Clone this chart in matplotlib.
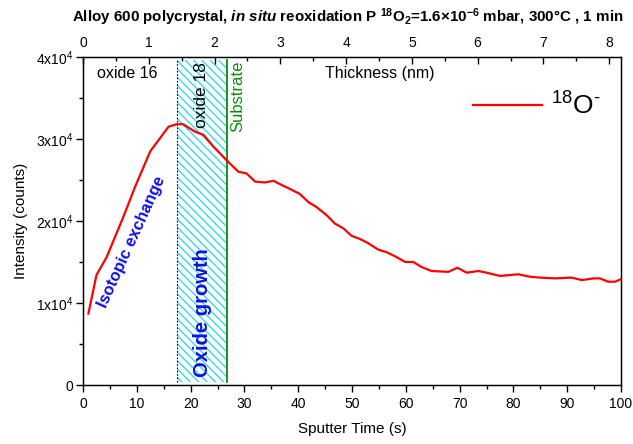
import matplotlib
matplotlib.use("Agg")
import matplotlib.pyplot as plt
from matplotlib.ticker import MultipleLocator, FuncFormatter

plt.rcParams['font.family'] = ['Liberation Sans', 'DejaVu Sans']
plt.rcParams['mathtext.fontset'] = 'custom'
plt.rcParams['mathtext.rm'] = 'Liberation Sans'
plt.rcParams['mathtext.bf'] = 'Liberation Sans:bold'
plt.rcParams['mathtext.it'] = 'Liberation Sans:italic:bold'
plt.rcParams['hatch.linewidth'] = 0.9

# data
time_s = [1.0, 2.5, 4.4, 7.5, 9.7, 12.5, 15.9, 17.4, 18.6, 20.8,
          22.4, 24.2, 26.7, 28.9, 30.4, 32.0, 33.8, 35.4, 36.9, 38.5,
          40.3, 41.9, 43.4, 45.3, 46.8, 48.4, 49.9, 51.5, 53.0, 54.9,
          56.4, 58.0, 59.9, 61.4, 62.9, 64.8, 67.9, 69.6, 71.3, 73.5,
          75.0, 77.5, 80.9, 83.1, 84.9, 87.7, 90.8, 92.7, 94.9, 96.1,
          97.6, 98.9, 100.0]
intensity_k = [8.7, 13.4, 15.6, 20.5, 24.2, 28.5, 31.5, 31.8, 31.8, 30.9,
               30.5, 29.1, 27.4, 26.0, 25.8, 24.8, 24.7, 24.9, 24.4, 23.9,
               23.3, 22.3, 21.7, 20.7, 19.7, 19.1, 18.2, 17.8, 17.3, 16.5,
               16.2, 15.7, 15.0, 15.0, 14.4, 13.9, 13.8, 14.3, 13.7, 13.9,
               13.7, 13.3, 13.5, 13.2, 13.1, 13.0, 13.1, 12.8, 13.0, 13.0,
               12.6, 12.6, 12.9]
intensity = [v * 1000 for v in intensity_k]
oxide16_end = 17.5
substrate_start = 26.7
thickness_max = 8.18

fig = plt.figure(figsize=(6.33, 4.44), dpi=100)
ax = fig.add_axes([83/633, 1-385/444, (621-83)/633, (385-57)/444])

ax.plot(time_s, intensity, color='#ff0000', lw=1.6, label=r'$^{18}$O$^{\text{-}}$', zorder=5)

ymin_f, ymax_f = 0.009, 0.99
ax.axvspan(oxide16_end, substrate_start, ymin=ymin_f, ymax=ymax_f, facecolor='none',
           edgecolor='#22d8ec', hatch='\\\\\\\\', linewidth=0, zorder=1)
ax.axvline(oxide16_end, ymin=ymin_f, ymax=ymax_f, color='black', ls=(0, (1.5, 1.5)), lw=0.8, zorder=2)
ax.axvline(substrate_start, ymin=ymin_f, ymax=ymax_f, color='#0a8a0a', lw=1.3, zorder=3)

ax.set_xlim(0, 100)
ax.set_ylim(0, 40000)
ax.xaxis.set_major_locator(MultipleLocator(10))
ax.xaxis.set_minor_locator(MultipleLocator(5))
ax.yaxis.set_major_locator(MultipleLocator(10000))
ax.yaxis.set_minor_locator(MultipleLocator(5000))

def yfmt(v, pos):
    if v == 0:
        return '0'
    return r'%dx10$^{4}$' % round(v / 10000)
ax.yaxis.set_major_formatter(FuncFormatter(yfmt))
ax.tick_params(axis='both', which='major', direction='out', length=5, width=1, labelsize=10)
ax.tick_params(axis='both', which='minor', direction='out', length=3, width=1)
ax.tick_params(axis='y', pad=2)
for s in ax.spines.values():
    s.set_linewidth(1.0)

ax.set_xlabel('Sputter Time (s)', fontsize=11, labelpad=8)
ax.set_ylabel('Intensity (counts)', fontsize=11, labelpad=6)

ax2 = ax.twiny()
ax2.set_xlim(0, thickness_max)
ax2.xaxis.set_major_locator(MultipleLocator(1))
ax2.xaxis.set_minor_locator(MultipleLocator(0.5))
ax2.tick_params(axis='x', which='major', direction='in', length=5, width=1, labelsize=10, pad=5)
ax2.tick_params(axis='x', which='minor', direction='in', length=3, width=1)

ax.text(8.2, 38000, 'oxide 16', fontsize=11.5, ha='center', va='center')
ax.text(55.2, 38000, 'Thickness (nm)', fontsize=11.5, ha='center', va='center')
ax.text(22.0, 31400, 'oxide 18', fontsize=12.5, rotation=90, ha='center', va='bottom', clip_on=True)
ax.text(28.8, 39550, 'Substrate', fontsize=12, rotation=90, ha='center', va='top', color='#0a8a0a')
ax.text(9.0, 17400, 'Isotopic exchange', fontsize=11.8, fontweight='bold', color='#1010e0',
        rotation=65.5, ha='center', va='center', rotation_mode='anchor')
ax.text(22.3, 8800, 'Oxide growth', fontsize=14.5, fontweight='bold', color='#1010e0',
        rotation=90, ha='center', va='center')

ax.legend(loc='center left', bbox_to_anchor=(473/633, 1-106/444), bbox_transform=fig.transFigure,
          frameon=False, fontsize=19, handlelength=2.6, handletextpad=0.35, borderpad=0, borderaxespad=0)

fig.text(0.549, 1-17/444,
         r'Alloy 600 polycrystal, $\mathit{in\ situ}$ reoxidation P $\mathbf{^{18}}$O$\mathbf{_{2}}$=1.6×10$\mathbf{^{-6}}$ mbar, 300°C , 1 min',
         fontsize=10.9, fontweight='bold', ha='center', va='center')

fig.savefig('out.png', dpi=100)
